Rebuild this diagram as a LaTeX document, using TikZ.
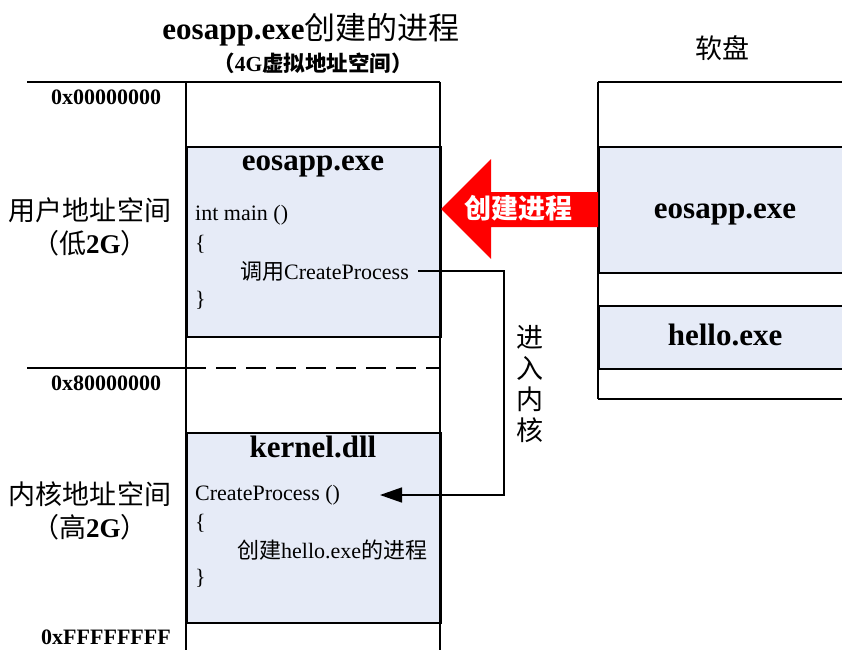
\documentclass[tikz,border=0pt]{standalone}
\usepackage{fontspec}
\setmainfont{Liberation Serif}
\newfontfamily\cjk{Noto Sans CJK SC}
\usetikzlibrary{arrows.meta,positioning}
\definecolor{memblue}{RGB}{230,235,247}
\tikzset{
  frame/.style={line width=1.5pt},
  block/.style={draw, line width=1.5pt, fill=memblue, inner sep=0pt, anchor=north west},
  code/.style={anchor=west, inner sep=0pt, font=\fontsize{22}{26}\selectfont},
  head/.style={inner sep=0pt, font=\fontsize{31}{36}\selectfont\bfseries},
  addr/.style={inner sep=0pt, font=\fontsize{22}{26}\selectfont\bfseries},
  area/.style={inner sep=0pt, font=\fontsize{27}{32}\selectfont},
  conn/.style={line width=1.5pt, -{Triangle[length=22pt,width=15pt]}},
}
\begin{document}
\begin{tikzpicture}[x=1pt, y=-1pt]
        \useasboundingbox (0,0) rectangle (842,650);

        % 标题
        \node (title) at (311,30) {\fontsize{31}{36}\selectfont\textbf{eosapp.exe}{\cjk 创建的进程}};
        \node (subtitle) at (313,63) {\fontsize{21.5}{25}\selectfont{\cjk\bfseries （}\textbf{4G}{\cjk\bfseries 虚拟地址空间）}};
        \node[area] (disk) at (722,48) {\cjk 软盘};

        % 4G虚拟地址空间
        \node[block, minimum width=254pt, minimum height=190pt] (app) at (186,146) {};
        \node[block, minimum width=254pt, minimum height=190pt] (kern) at (186,432) {};
        \draw[frame] (27,82) -- (440,82);
        \draw[frame] (186,82) -- (186,650);
        \draw[frame] (440,82) -- (440,650);
        \draw[frame] (27,368) -- (186,368);
        \draw[frame, dash pattern=on 20pt off 10pt] (186,368) -- (440,368);

        % 软盘
        \node[block, minimum width=270pt, minimum height=126pt] (diskapp) at (598,146) {};
        \node[block, minimum width=270pt, minimum height=63pt] (diskhello) at (598,305) {};
        \draw[frame] (598,82) -- (870,82);
        \draw[frame] (598,399) -- (870,399);
        \draw[frame] (598,82) -- (598,399);
        \node[head] at (725,214) {eosapp.exe};
        \node[head] at (725,335) {hello.exe};

        % 地址
        \node[addr] (a0) at (106,97) {0x00000000};
        \node[addr] (a8) at (106,383) {0x80000000};
        \node[addr] (af) at (106,637) {0xFFFFFFFF};
        \node[area] (user) at (90,210) {\cjk 用户地址空间};
        \node[area] (userlow) at (90,243) {{\cjk （低}\textbf{2G}{\cjk ）}};
        \node[area] (kernel) at (90,494) {\cjk 内核地址空间};
        \node[area] (kernhigh) at (90,527) {{\cjk （高}\textbf{2G}{\cjk ）}};

        % eosapp.exe
        \node[head] (apptitle) at (313,166) {eosapp.exe};
        \node[code] (main) at (195,215) {int main ()};
        \node[code] at (195,244) {\{};
        \node[code] (call) at (240,271) {{\cjk 调用}CreateProcess};
        \node[code] at (195,300) {\}};

        % kernel.dll
        \node[head] (kerntitle) at (313,447) {kernel.dll};
        \node[code] (cp) at (195,495) {CreateProcess ()};
        \node[code] at (195,523) {\{};
        \node[code] (mk) at (237,550) {{\cjk 创建}hello.exe{\cjk 的进程}};
        \node[code] at (195,578) {\}};

        % 创建进程
        \fill[red] (598,192) -- (491,192) -- (491,159) -- (441,209)
            -- (491,259) -- (491,227) -- (598,227) -- cycle;
        \node[area, text=white, font=\fontsize{27}{32}\selectfont\cjk\bfseries] (create) at (518,208) {创建进程};

        % 进入内核
        \coordinate (kin) at (380,495);
        \coordinate (kturn) at (504,495);
        \draw[conn] ([xshift=9pt]call.east) -| (kturn) -- (kin);
        \node[area, align=center, font=\fontsize{27}{31}\selectfont\cjk] (klabel) at (530,384) {进\\入\\内\\核};
\end{tikzpicture}
\end{document}
